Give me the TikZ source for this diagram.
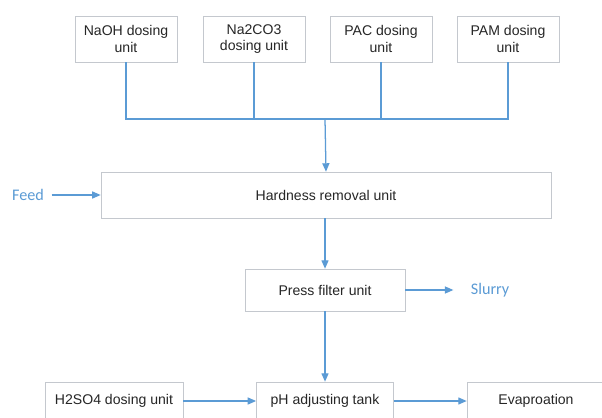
\documentclass[tikz,border=0pt]{standalone}
\usepackage{fontspec}
\setmainfont{Liberation Sans}
\newfontfamily\calib{Carlito}
\usetikzlibrary{positioning,arrows.meta}
\definecolor{flow}{RGB}{91,155,213}
\definecolor{edge}{RGB}{196,200,206}
\definecolor{ink}{RGB}{38,38,38}
\begin{document}
\begin{tikzpicture}[x=0.025cm,y=-0.025cm, box/.style={draw=edge,thin,fill=white,text=ink,font=\fontsize{10}{11.5}\selectfont,align=center,inner sep=0pt},top/.style={box,minimum width=2.55cm,minimum height=1.15cm},flw/.style={draw=flow,line width=0.9pt},arr/.style={flw,-{Triangle[length=6pt,width=5pt]}},lbl/.style={text=flow,font=\calib\fontsize{11.5}{13}\selectfont}]
              \clip (0,0) rectangle (602,418);
              \fill[white] (0,0) rectangle (602,418);

              \node[top] (d1) at (126,39) {NaOH dosing\\unit};
              \node[top] (d2) at (254,39) {Na2CO3\\dosing unit};
              \node[top] (d3) at (381,39) {PAC dosing\\unit};
              \node[top] (d4) at (508,39) {PAM dosing\\unit};

              \node[box,minimum width=11.25cm,minimum height=1.15cm] (hr) at (326,195) {Hardness removal unit};
              \node[box,minimum width=4cm,minimum height=1.05cm] (pf) at (325,290) {Press filter unit};

              \node[box,minimum width=3.45cm,minimum height=0.95cm] (h2) at (114,401) {H2SO4 dosing unit};
              \node[box,minimum width=3.43cm,minimum height=0.95cm] (ph) at (325,401) {pH adjusting tank};
              \node[box,minimum width=3.45cm,minimum height=0.95cm] (ev) at (536,401) {Evaproation};

              \node[lbl] (feed) at (28,195) {Feed};
              \node[lbl,anchor=west] (sl) at (466,290) {Slurry};
              \coordinate (bus) at (325,119);

              \draw[flw] (d1.south) |- (d4.south |- bus) -- (d4.south);
              \draw[flw] (d2.south) -- (d2.south |- bus);
              \draw[flw] (d3.south) -- (d3.south |- bus);
              \draw[arr] (bus) -- (hr.north);
              \draw[arr,shorten <=2pt] (feed.east) -- (hr.west);
              \draw[arr] (hr.south -| bus) -- (pf.north);
              \draw[arr,shorten >=9pt] (pf.east) -- (sl.west);
              \draw[arr] (pf.south) -- (ph.north);
              \draw[arr] (h2.east) -- (ph.west);
              \draw[arr] (ph.east) -- (ev.west);
            \end{tikzpicture}
\end{document}
